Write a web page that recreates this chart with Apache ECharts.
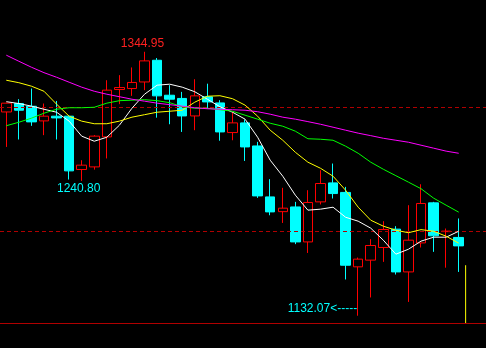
<!DOCTYPE html>
<html>
<head>
<meta charset="utf-8">
<script src="https://cdn.jsdelivr.net/npm/echarts@6/dist/echarts.min.js"></script>
<style>
  html, body { margin: 0; padding: 0; background: #000; }
  #chart { width: 486px; height: 348px; }
</style>
</head>
<body>
<div id="chart"></div>
<script>
// ---- data ----
var categories = [];
for (var k = 1; k <= 37; k++) categories.push('D' + k);

// [open, close, low, high]
var candles = [
  [1296.4, 1303.5, 1268.2, 1303.9],
  [1303.2, 1297.8, 1274.2, 1306.7],
  [1301.0, 1288.4, 1285.2, 1315.3],
  [1289.2, 1293.0, 1277.7, 1303.2],
  [1293.0, 1291.6, 1274.2, 1305.3],
  [1293.0, 1248.9, 1241.9, 1293.0],
  [1250.0, 1253.5, 1240.8, 1257.5],
  [1252.1, 1276.9, 1249.9, 1277.7],
  [1276.3, 1314.0, 1258.9, 1322.0],
  [1314.5, 1316.1, 1302.7, 1326.1],
  [1315.3, 1320.2, 1309.4, 1332.3],
  [1320.6, 1337.6, 1314.0, 1344.95],
  [1338.1, 1309.4, 1291.8, 1339.9],
  [1309.9, 1306.7, 1286.5, 1318.0],
  [1307.3, 1293.2, 1280.3, 1312.6],
  [1293.2, 1309.4, 1281.7, 1322.8],
  [1308.6, 1304.5, 1299.0, 1319.2],
  [1303.7, 1280.3, 1273.2, 1305.9],
  [1279.8, 1287.6, 1273.6, 1296.5],
  [1287.6, 1268.2, 1256.9, 1290.3],
  [1269.0, 1228.7, 1227.1, 1272.3],
  [1227.9, 1215.8, 1213.1, 1242.2],
  [1216.0, 1218.8, 1206.9, 1235.2],
  [1219.8, 1191.6, 1189.8, 1223.9],
  [1191.6, 1223.4, 1182.7, 1233.3],
  [1223.9, 1238.7, 1221.8, 1249.4],
  [1239.2, 1230.6, 1226.6, 1254.8],
  [1231.5, 1172.8, 1161.3, 1236.0],
  [1171.5, 1177.7, 1132.07, 1179.0],
  [1176.9, 1188.7, 1146.8, 1193.8],
  [1187.1, 1201.6, 1175.5, 1208.3],
  [1201.9, 1167.4, 1165.3, 1204.3],
  [1167.4, 1193.0, 1143.2, 1221.2],
  [1190.8, 1222.6, 1187.1, 1238.1],
  [1223.1, 1196.5, 1183.6, 1223.9],
  [1199.9, 1200.3, 1170.8, 1202.4],
  [1195.2, 1188.4, 1167.4, 1210.5]
];

var maWhite = [1304.7, 1303.2, 1301.1, 1298.6, 1296.2, 1289.0, 1276.9, 1272.8, 1276.0, 1285.7,
  1299.4, 1310.7, 1318.0, 1318.8, 1316.4, 1312.7, 1306.7, 1300.6, 1296.2, 1290.6,
  1276.0, 1257.5, 1244.6, 1229.3, 1217.2, 1218.0, 1219.6, 1211.5, 1208.3, 1202.7,
  1193.0, 1181.7, 1185.7, 1192.2, 1195.4, 1195.4, 1200.2];
var maYellow = [1322.0, 1320.0, 1317.2, 1313.1, 1302.7, 1293.0, 1289.0, 1286.9, 1286.9, 1289.0,
  1292.2, 1294.2, 1296.2, 1297.0, 1297.8, 1304.3, 1309.1, 1309.5, 1307.1, 1301.9,
  1293.0, 1281.7, 1273.6, 1263.9, 1255.9, 1251.0, 1244.6, 1233.3, 1219.6, 1209.1,
  1204.3, 1201.0, 1199.0, 1201.5, 1200.2, 1196.2, 1190.6];
var maGreen = [1285.3, 1288.1, 1291.4, 1295.4, 1298.6, 1299.8, 1299.8, 1300.2, 1303.5, 1305.5,
  1305.9, 1306.3, 1305.5, 1303.9, 1300.6, 1299.4, 1299.4, 1298.2, 1297.0, 1293.8,
  1290.6, 1287.3, 1284.9, 1280.9, 1274.8, 1274.4, 1273.6, 1268.8, 1263.1, 1255.9,
  1250.2, 1245.0, 1239.8, 1234.5, 1226.9, 1221.2, 1215.6];
var maMagenta = [1342.2, 1337.3, 1332.5, 1328.1, 1324.4, 1320.4, 1316.4, 1313.1, 1310.7, 1308.7,
  1306.7, 1305.1, 1303.5, 1302.3, 1301.1, 1299.8, 1299.0, 1298.6, 1298.2, 1297.8,
  1296.6, 1294.6, 1292.2, 1290.6, 1288.6, 1286.5, 1284.1, 1281.7, 1279.3, 1277.3,
  1275.2, 1273.6, 1272.0, 1269.6, 1267.2, 1264.8, 1263.1];

var guideLevels = [1300, 1200];
var highMark = { index: 11, value: 1344.95, text: '1344.95' };
var lowMark1 = { index: 6, value: 1240.80, text: '1240.80' };
var lowMark2 = { index: 28, value: 1132.07, text: '1132.07<-----' };
var cursorLine = [[36.55, 1172.8], [36.55, 1126.2]];

var yMin = 1126.2, yMax = 1386.7;

// ---- chart ----
var chart = echarts.init(document.getElementById('chart'), null, { renderer: 'canvas' });
var font = "'Liberation Sans', Arial, sans-serif";

function maSeries(name, data, color) {
  return {
    name: name, type: 'line', data: data, xAxisIndex: 0, yAxisIndex: 0,
    symbol: 'none', smooth: false, z: 5, silent: true,
    lineStyle: { color: color, width: 1 }
  };
}

chart.setOption({
  backgroundColor: '#000000',
  animation: false,
  grid: [
    { left: 0, top: 0, width: 465, height: 323 },
    { left: 0, right: 0, top: 0, height: 323 }
  ],
  xAxis: [
    { type: 'category', gridIndex: 0, data: categories, boundaryGap: true,
      axisLine: { show: false }, axisTick: { show: false }, axisLabel: { show: false }, splitLine: { show: false } },
    { type: 'value', gridIndex: 1, min: -0.5, max: 38.17,
      axisLine: { show: true, onZero: false, lineStyle: { color: '#b00000', width: 1 } },
      axisTick: { show: false }, axisLabel: { show: false }, splitLine: { show: false } }
  ],
  yAxis: [
    { type: 'value', gridIndex: 0, min: yMin, max: yMax, show: false, splitLine: { show: false } },
    { type: 'value', gridIndex: 1, min: yMin, max: yMax, show: false, splitLine: { show: false } }
  ],
  series: [
    {
      type: 'line', xAxisIndex: 1, yAxisIndex: 1, data: cursorLine,
      symbol: 'none', silent: true, z: 1,
      lineStyle: { color: '#ffff00', width: 1 },
      markLine: {
        silent: true, symbol: 'none', label: { show: false },
        lineStyle: { color: '#b00000', type: [4, 3], width: 1 },
        data: guideLevels.map(function (v) { return { yAxis: v }; })
      }
    },
    {
      type: 'candlestick', xAxisIndex: 0, yAxisIndex: 0, data: candles,
      barWidth: 10, z: 3, silent: true,
      itemStyle: {
        color: 'rgba(0,0,0,0)', color0: '#00ffff',
        borderColor: '#ff0000', borderColor0: '#00ffff', borderWidth: 1
      },
      markPoint: {
        symbol: 'circle', symbolSize: 0, silent: true,
        data: [
          { coord: [highMark.index, highMark.value], value: highMark.text,
            label: { show: true, position: 'inside', offset: [-2, -8], color: '#ff2020',
              fontFamily: font, fontSize: 12, formatter: highMark.text } },
          { coord: [lowMark1.index, lowMark1.value], value: lowMark1.text,
            label: { show: true, position: 'inside', offset: [-3, 8], color: '#00ffff',
              fontFamily: font, fontSize: 12, formatter: lowMark1.text } },
          { coord: [lowMark2.index, lowMark2.value], value: lowMark2.text,
            label: { show: true, position: 'left', distance: 1, offset: [0, -7], color: '#00ffff',
              fontFamily: font, fontSize: 12, formatter: lowMark2.text } }
        ]
      }
    },
    maSeries('MA5', maWhite, '#ffffff'),
    maSeries('MA10', maYellow, '#ffff00'),
    maSeries('MA20', maGreen, '#00ff00'),
    maSeries('MA60', maMagenta, '#ff00ff')
  ]
});
</script>
</body>
</html>
